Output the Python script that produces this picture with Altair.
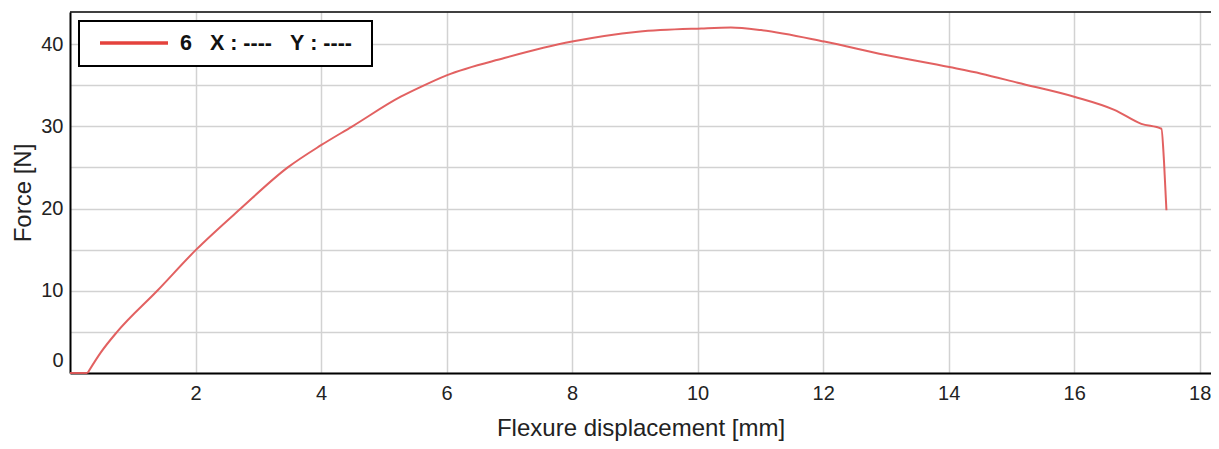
import altair as alt
import pandas as pd

# Flexure displacement [mm] and force [N]
displacement = [0.0, 0.28, 0.5, 0.75, 1.39, 2.01, 2.72, 3.47, 4.0, 4.5, 5.27,
                5.59, 6.0, 6.92, 8.0, 9.05, 10.06, 10.53, 11.01, 12.02, 12.98,
                14.01, 14.52, 15.1, 16.0, 16.64, 17.07, 17.39, 17.43, 17.47]
force = [0.0, 0.0, 2.6, 5.0, 10.0, 15.0, 20.0, 25.0, 27.7, 30.0, 33.6,
         34.8, 36.2, 38.3, 40.3, 41.5, 41.9, 42.0, 41.7, 40.3, 38.7,
         37.2, 36.4, 35.3, 33.6, 32.0, 30.3, 29.7, 25.9, 19.8]

x_ticks = [2, 4, 6, 8, 10, 12, 14, 16, 18]
y_grid = [0, 5, 10, 15, 20, 25, 30, 35, 40]
legend_label = "6\u00a0\u00a0\u00a0X\u00a0:\u00a0----\u00a0\u00a0\u00a0Y\u00a0:\u00a0----"

LINE_COLOR = "#e05858"
FONT = "Liberation Sans"
W, H = 1141, 361
TOE_END = 0.28  # end of the flat toe region

df = pd.DataFrame({"x": displacement, "y": force})

x_enc = alt.X("x:Q",
              scale=alt.Scale(domain=[0, 18.18], nice=False, zero=False),
              axis=alt.Axis(values=x_ticks, title="Flexure displacement [mm]",
                            ticks=False, labelPadding=10, titlePadding=13.5,
                            labelFlush=False))
y_enc = alt.Y("y:Q",
              scale=alt.Scale(domain=[0, 43.9], nice=False, zero=False),
              axis=alt.Axis(values=y_grid, title="Force [N]",
                            labelExpr="datum.value % 10 == 0 ? datum.label : ''",
                            ticks=False, labelPadding=7, titlePadding=5,
                            labelFlush=True, labelFlushOffset=-3))

base = alt.Chart(df).encode(x=x_enc, y=y_enc)
toe = base.mark_line(color=LINE_COLOR, strokeWidth=2, opacity=0.95).transform_filter(
    alt.datum.x <= TOE_END)
curve = base.mark_line(color=LINE_COLOR, strokeWidth=2, opacity=0.95,
                       interpolate="monotone").transform_filter(alt.datum.x >= TOE_END)

one = pd.DataFrame({"a": [0]})
top_border = alt.Chart(one).mark_rule(color="black", strokeWidth=1.5).encode(
    x=alt.value(0), x2=alt.value(W), y=alt.value(0))
legend_box = alt.Chart(one).mark_rect(fill="white", stroke="black", strokeWidth=2).encode(
    x=alt.value(9), x2=alt.value(302), y=alt.value(9), y2=alt.value(54))
legend_line = alt.Chart(one).mark_rule(color="#e4423c", strokeWidth=3.5).encode(
    x=alt.value(30), x2=alt.value(98), y=alt.value(31))
legend_text = alt.Chart(one).mark_text(
    align="left", baseline="middle", font=FONT, fontSize=21.5, fontWeight="bold",
    color="#111111").encode(
    x=alt.value(110), y=alt.value(31.5), text=alt.value(legend_label))

chart = alt.layer(toe, curve, top_border, legend_box, legend_line, legend_text).properties(
    width=W, height=H,
    padding={"left": 62, "top": 4, "right": 0, "bottom": 68},
    autosize=alt.AutoSizeParams(type="none"),
).configure_view(
    stroke=None
).configure_axis(
    domainColor="black", domainWidth=2,
    gridColor="#d2d2d2", gridWidth=1.5,
    labelFont=FONT, labelFontSize=20, labelColor="#222222",
    titleFont=FONT, titleFontSize=24, titleFontWeight="normal", titleColor="#222222",
)

chart.save("out.html", embed_options={"renderer": "svg", "actions": False})
